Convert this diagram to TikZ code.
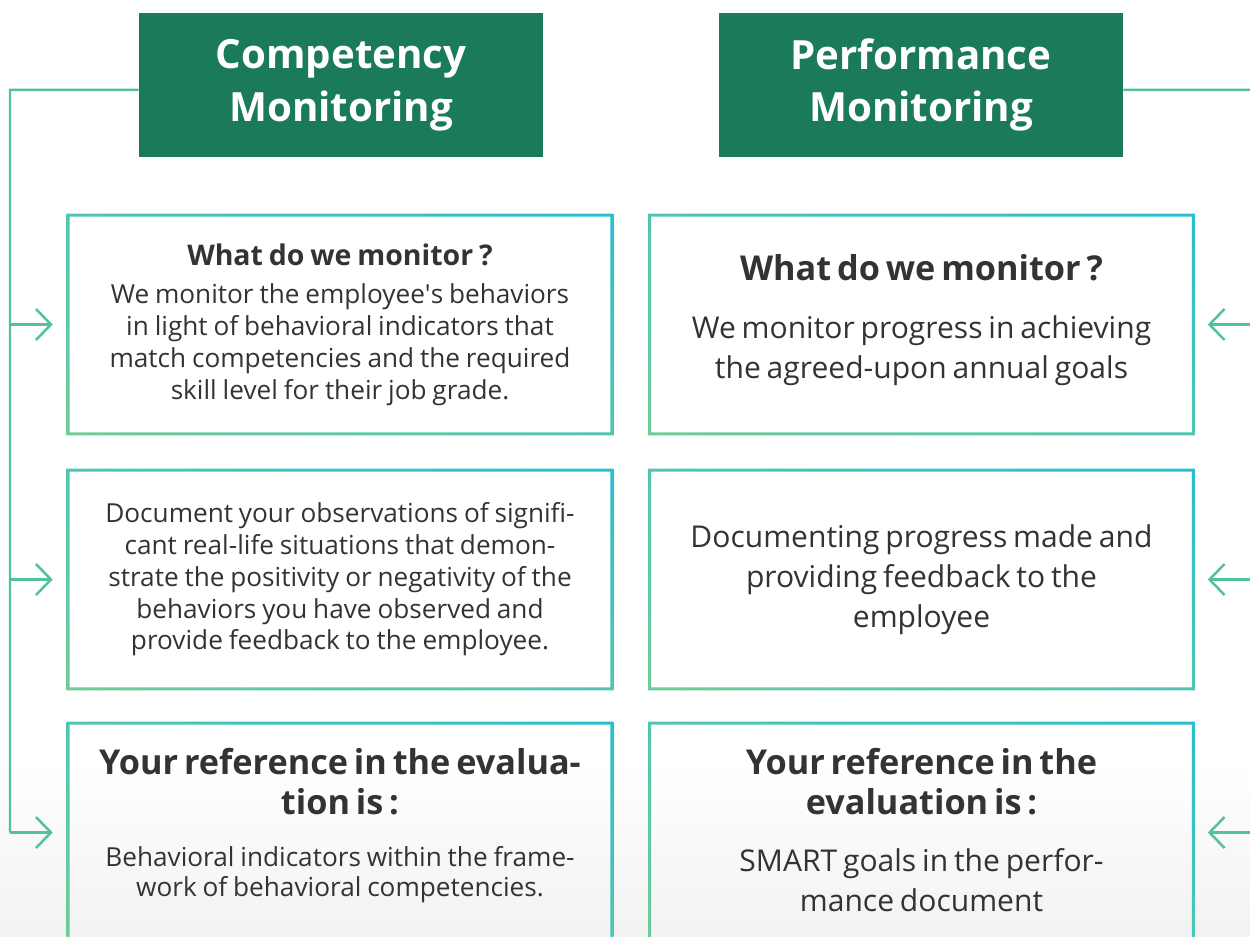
\documentclass[tikz,border=0pt]{standalone}
\usepackage{fontspec}
\setmainfont{Open Sans}
\usetikzlibrary{arrows.meta,shadings}

\definecolor{hdrgreen}{HTML}{1B7A5B}
\definecolor{linegreen}{HTML}{52C297}
\definecolor{framegreen}{HTML}{70CB98}
\definecolor{framemid}{HTML}{4FC6B2}
\definecolor{frameteal}{HTML}{27BFD0}
\definecolor{txtgray}{HTML}{333333}

% font sizes for the cards
\newcommand{\titlesmall}{\fontsize{16.2}{20}\selectfont\bfseries}
\newcommand{\titlelarge}{\fontsize{19.5}{22.7}\selectfont\bfseries}
\newcommand{\bodysmall}{\fontsize{14.9}{18.1}\selectfont\mdseries}
\newcommand{\bodytiny}{\fontsize{14.9}{17}\selectfont\mdseries}
\newcommand{\bodylarge}{\fontsize{17.1}{22.7}\selectfont\mdseries}

\tikzset{
	header/.style={fill=hdrgreen, text=white, minimum width=8.08cm, minimum height=2.88cm,
		align=center, font=\fontsize{22.9}{30}\selectfont\bfseries},
	card/.style={inner sep=0pt, text width=10.92cm, minimum height=4.42cm, align=center, text=txtgray},
	rail/.style={draw=linegreen, line width=0.05cm},
	feed/.style={rail, -{Straight Barb[length=0.3cm, width=0.62cm]}},
	frame/.style={even odd rule, lower left=framegreen, upper right=frameteal,
		upper left=framemid, lower right=framemid}
}

\begin{document}
\begin{tikzpicture}[x=0.02cm, y=0.02cm]
	\useasboundingbox (0,0) rectangle (1250,-936);
	\clip (0,0) rectangle (1250,-936);
	\shade[top color=white, bottom color=black!5] (0,-760) rectangle (1250,-936);

	% column headers
	\node[header] (hdrC) at (341,-85) {Competency\\Monitoring};
	\node[header] (hdrP) at (921,-85) {Performance\\Monitoring};

	% competency cards
	\node[card] (c1) at (340,-324.5) {\titlesmall What do we monitor ?\par\vspace{4pt}
		\bodysmall We monitor the employee\textquotesingle s behaviors\\
		in light of behavioral indicators that\\
		match competencies and the required\\
		skill level for their job grade.\par};
	\node[card] (c2) at (340,-579.5) {\bodysmall Document your observations of signifi-\\
		cant real-life situations that demon-\\
		strate the positivity or negativity of the\\
		behaviors you have observed and\\
		provide feedback to the employee.\par};
	\node[card] (c3) at (340,-832.5) {\titlelarge Your reference in the evalua-\\tion is :\par\vspace{13pt}
		\bodytiny Behavioral indicators within the frame-\\
		work of behavioral competencies.\par\vspace{8pt}};

	% performance cards
	\node[card] (p1) at (921.5,-324.5) {\titlelarge What do we monitor ?\par\vspace{10pt}
		\bodylarge We monitor progress in achieving\\
		the agreed-upon annual goals\par\vspace{5pt}};
	\node[card] (p2) at (921.5,-579.5) {\bodylarge Documenting progress made and\\
		providing feedback to the\\
		employee\par};
	\node[card] (p3) at (921.5,-832.5) {\titlelarge Your reference in the\\evaluation is :\par\vspace{10pt}
		\bodylarge SMART goals in the perfor-\\
		mance document\par\vspace{3pt}};

	% gradient frames around the cards
	\foreach \n in {c1,c2,c3,p1,p2,p3}
		\shade[frame] (\n.south west) rectangle (\n.north east)
			([shift={(0.06cm,0.06cm)}]\n.south west) rectangle ([shift={(-0.06cm,-0.06cm)}]\n.north east);

	% rails feeding the cards
	\coordinate (railL) at (10,-90);
	\coordinate (railR) at (1262,-90);
	\draw[rail] ([yshift=-0.1cm]hdrC.west) -- (railL) -- (railL |- c3.west);
	\draw[rail] ([yshift=-0.1cm]hdrP.east) -- (railR) -- (railR |- p3.east);
	\foreach \n in {c1,c2,c3}
		\draw[feed] (railL |- \n.west) -- ([xshift=-0.28cm]\n.west);
	\foreach \n in {p1,p2,p3}
		\draw[feed] (railR |- \n.east) -- ([xshift=0.26cm]\n.east);
\end{tikzpicture}
\end{document}
